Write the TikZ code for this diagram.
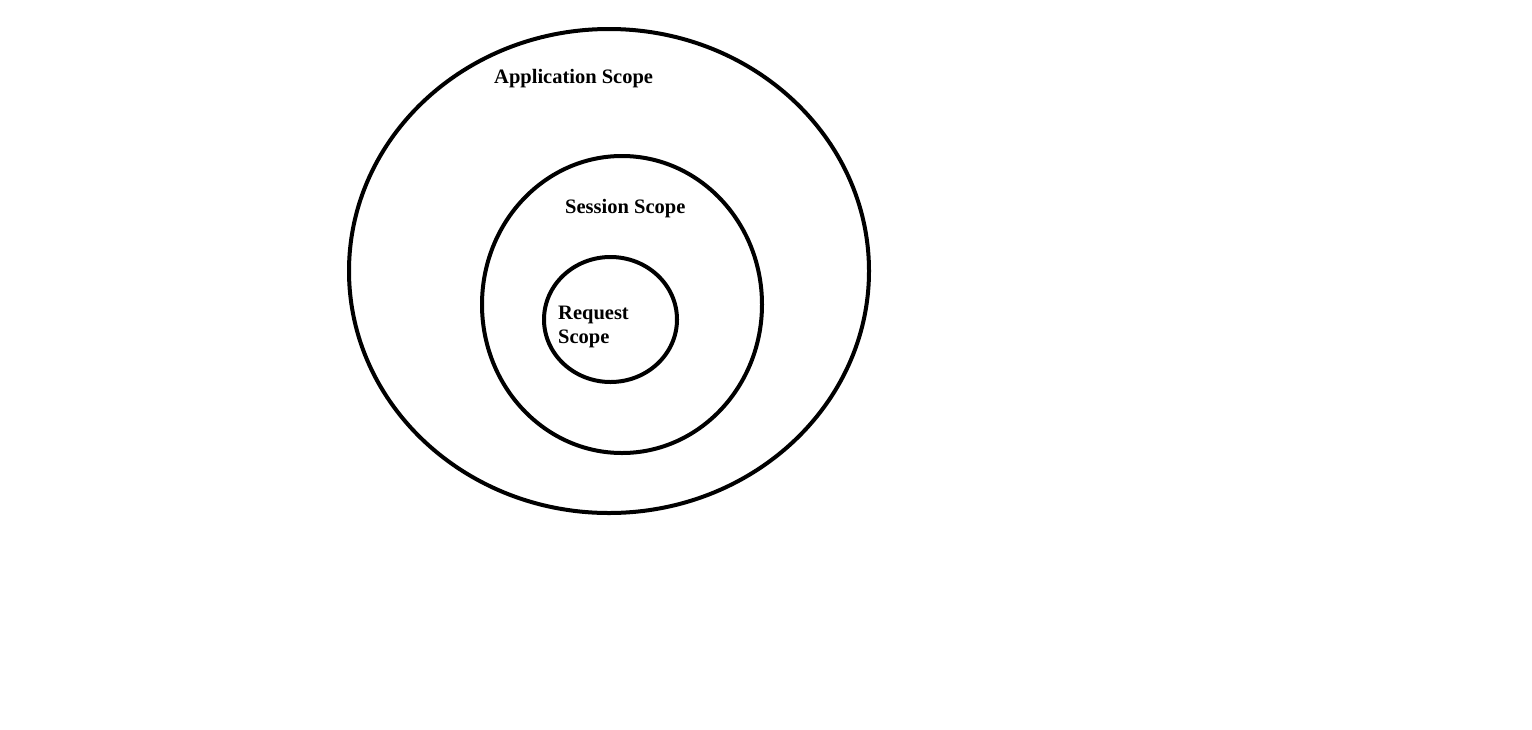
\documentclass[tikz,border=0pt]{standalone}
\usepackage{fontspec}
\setmainfont{Liberation Serif}
\usetikzlibrary{positioning}

\tikzset{
    scopering/.style={draw=black, line width=4pt},
    scopelabel/.style={anchor=base west, inner sep=0pt, font=\fontsize{20.5}{24}\selectfont\bfseries, align=left}
}

\begin{document}
\begin{tikzpicture}[x=1pt,y=-1pt]

\useasboundingbox (0,0) rectangle (1532,729);

% rings
\draw[scopering] (609,271) ellipse [x radius=260, y radius=242];
\draw[scopering] (622,304.5) ellipse [x radius=140, y radius=148.5];
\draw[scopering] (610.5,319.5) ellipse [x radius=66.5, y radius=62.5];

% labels
\node[scopelabel] (app) at (494,83) {Application Scope};
\node[scopelabel] (session) at (565,213) {Session Scope};
\node[scopelabel] (request) at (558,343) {Request\\Scope};

\end{tikzpicture}
\end{document}
